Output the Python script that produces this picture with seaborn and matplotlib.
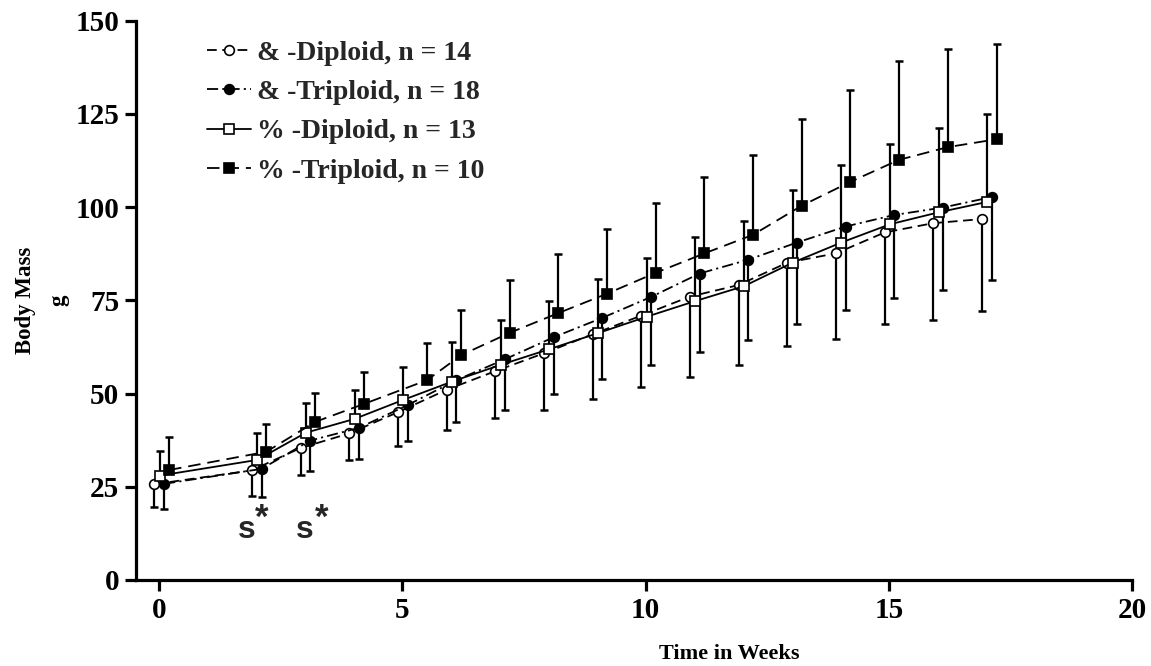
import numpy as np
import pandas as pd
import matplotlib
matplotlib.use("Agg")
import matplotlib.pyplot as plt
import seaborn as sns

# ---------------- data ----------------
weeks = [0, 2, 3, 4, 5, 6, 7, 8, 9, 10, 11, 12, 13, 14, 15, 16, 17]
weeks_tri_f = [0, 2, 3, 4, 5.3, 6, 7, 8, 9, 10, 11, 12, 13, 14, 15, 16, 17]

dip_m_mean = [25.7, 29.4, 35.4, 39.3, 45.0, 51.0, 56.0, 60.8, 65.9, 70.9, 76.0, 79.1, 85.1, 87.6, 93.2, 95.7, 96.8]
dip_m_sd = [6.2, 6.8, 7.2, 7.2, 9.0, 10.8, 12.6, 15.2, 17.4, 19.2, 21.5, 21.5, 22.3, 23.0, 24.5, 26.0, 24.6]

tri_m_mean = [25.8, 29.8, 37.4, 40.8, 46.9, 53.6, 59.2, 65.1, 70.3, 75.9, 82.2, 85.9, 90.5, 94.8, 97.9, 99.9, 102.7]
tri_m_sd = [6.7, 7.5, 8.2, 8.4, 9.5, 11.3, 13.5, 15.2, 16.5, 18.3, 21.0, 21.5, 21.8, 22.5, 22.3, 22.0, 22.2]

dip_f_mean = [28.0, 32.2, 39.5, 43.2, 48.3, 53.2, 57.7, 61.9, 66.2, 70.6, 74.8, 78.8, 85.1, 90.5, 95.4, 98.6, 101.4]
dip_f_sd = [6.7, 7.1, 8.0, 7.8, 8.8, 10.7, 11.9, 12.9, 14.5, 15.8, 17.3, 17.6, 19.5, 20.7, 21.6, 22.7, 23.5]

tri_f_mean = [29.5, 34.4, 42.4, 47.2, 53.6, 60.3, 66.3, 71.6, 76.8, 82.4, 87.6, 92.6, 100.4, 106.8, 112.7, 116.1, 118.2]
tri_f_sd = [8.9, 7.5, 7.7, 8.6, 10.0, 12.1, 14.1, 15.7, 17.3, 18.7, 20.5, 21.5, 23.2, 24.6, 26.5, 26.2, 25.6]

labels = ["& -Diploid, n = 14", "& -Triploid, n = 18", "% -Diploid, n = 13", "% -Triploid, n = 10"]
x_ticks = [0, 5, 10, 15, 20]
y_ticks = [0, 25, 50, 75, 100, 125, 150]
x_label = "Time in Weeks"
y_label = "Body Mass\ng"
sig_s_x = [1.81, 3.0]
sig_star_x = [2.12, 3.34]

# ---------------- style ----------------
sns.set_theme(style="ticks")
plt.rcParams["font.family"] = ["Liberation Serif", "DejaVu Serif"]
plt.rcParams["font.weight"] = "bold"
plt.rcParams["lines.scale_dashes"] = False

fig = plt.figure(figsize=(11.51, 6.66), dpi=100)
ax = fig.add_axes([136 / 1151, 1 - 580 / 666, (1132.3 - 136) / 1151, (580 - 20.7) / 666])

series = [
    # (x, mean, sd, dodge, marker, face, linestyle, err direction)
    (weeks, dip_m_mean, dip_m_sd, -0.09, "o", "white", (0, (7, 4)), "down"),
    (weeks, tri_m_mean, tri_m_sd, 0.11, "o", "black", (0, (8, 3, 1.5, 3)), "down"),
    (weeks, dip_f_mean, dip_f_sd, 0.02, "s", "white", "-", "up"),
    (weeks_tri_f, tri_f_mean, tri_f_sd, 0.21, "s", "black", (0, (9, 5)), "up"),
]

for (xs, m, sd, dx, mk, fc, ls, direc), lab in zip(series, labels):
    xs = np.asarray(xs, float) + dx
    m = np.asarray(m, float)
    sd = np.asarray(sd, float)
    zero = np.zeros_like(sd)
    yerr = [sd, zero] if direc == "down" else [zero, sd]
    ax.errorbar(xs, m, yerr=yerr, fmt="none", ecolor="black", elinewidth=1.6,
                capsize=3.0, capthick=1.8, zorder=2)
    df = pd.DataFrame({"x": xs, "y": m})
    sns.lineplot(data=df, x="x", y="y", ax=ax, color="black", linewidth=1.3,
                 linestyle=ls, marker=mk, markersize=7,
                 markerfacecolor=fc, markeredgecolor="black", markeredgewidth=1.2,
                 label=lab, zorder=3, sort=False)

ax.set_xlim(-0.47, 20)
ax.set_ylim(0, 150)
ax.set_xticks(x_ticks)
ax.set_yticks(y_ticks)
ax.set_xticklabels([str(v) for v in x_ticks], fontsize=21, fontweight="bold")
ax.set_yticklabels([str(v) for v in y_ticks], fontsize=21, fontweight="bold")
for s in ["top", "right"]:
    ax.spines[s].set_visible(False)
for s in ["left", "bottom"]:
    ax.spines[s].set_linewidth(2.3)
    ax.spines[s].set_color("black")
ax.tick_params(axis="both", length=8, width=2.3, color="black", pad=4, labelcolor="black")

ax.set_xlabel(x_label, fontsize=16, fontweight="bold", color="black")
ax.xaxis.set_label_coords((729 - 136) / 996.3, -0.115)
ax.set_ylabel(y_label, fontsize=16.5, fontweight="bold", color="black", linespacing=1.75)
ax.yaxis.set_label_coords(-0.067, 0.50)

# significance marks
for sx, stx in zip(sig_s_x, sig_star_x):
    ax.text(sx, 13.4, "s", fontsize=23, fontweight="bold", family="Liberation Sans",
            ha="center", va="center")
    ax.text(stx, 16.5, "*", fontsize=25, fontweight="bold", family="Liberation Sans",
            ha="center", va="center")

leg = ax.legend(loc="upper left", bbox_to_anchor=(0.060, 0.985), frameon=False,
                prop={"family": "Liberation Serif", "weight": "bold", "size": 20},
                handlelength=1.6, handletextpad=0.2, labelspacing=0.5, borderaxespad=0)

fig.savefig("out.png", dpi=100, facecolor="white")
